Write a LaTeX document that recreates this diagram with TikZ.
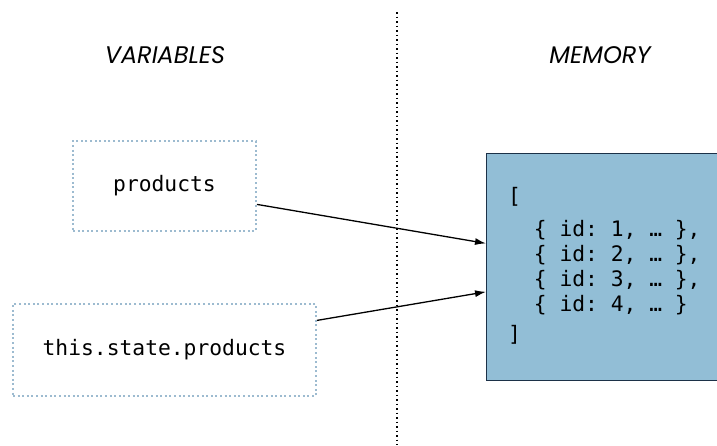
\documentclass[tikz,border=0pt]{standalone}
\usepackage{fontspec}
\setmonofont{DejaVu Sans Mono}
\newfontfamily\headfont{Poppins}
\usetikzlibrary{arrows.meta,calc}
\definecolor{dotblue}{HTML}{9DBBD0}
\definecolor{memfill}{HTML}{92BED6}
\definecolor{memdraw}{HTML}{1C3148}
\tikzset{
  varbox/.style={draw=dotblue, line width=2pt, dash pattern=on 2pt off 2.6pt,
    inner sep=0pt, font=\ttfamily\fontsize{21.3}{25}\selectfont},
  head/.style={font=\headfont\itshape\fontsize{24}{28}\selectfont},
  link/.style={line width=1.3pt, -{Latex[length=11pt,width=7pt]}}
}
\begin{document}
\begin{tikzpicture}[x=1pt,y=-1pt]
\useasboundingbox (0,0) rectangle (717,445);
\clip (0,0) rectangle (717,445);
  % divider
  \draw[line width=1.3pt, dash pattern=on 1.5pt off 3pt] (397,12)--(397,445);
  \node[head] (vars) at (165,55) {VARIABLES};
  \node[head] (memhead) at (600,55) {MEMORY};
  % variables
  \node[varbox, minimum width=183pt, minimum height=90pt] (prod) at (164.5,186) {products};
  \node[varbox, minimum width=303pt, minimum height=92pt] (state) at (164.5,350) {this.state.products};
  % memory
  \node[draw=memdraw, fill=memfill, line width=1.3pt, anchor=north west,
    minimum width=260pt, minimum height=227pt] (mem) at (486,153) {};
  \node[anchor=north west, align=left, inner sep=0pt,
    font=\ttfamily\fontsize{21.3}{25}\selectfont] (arr) at (508,187)
    {[\\[8pt]
     \ \ \{ id: 1, … \},\\
     \ \ \{ id: 2, … \},\\
     \ \ \{ id: 3, … \},\\
     \ \ \{ id: 4, … \}\\[5pt]
     ]};
  \draw[link] ($(prod.north east)!0.7!(prod.south east)$) -- ($(mem.north west)!0.396!(mem.south west)$);
  \draw[link] ($(state.north east)!0.185!(state.south east)$) -- ($(mem.north west)!0.608!(mem.south west)$);
\end{tikzpicture}
\end{document}
